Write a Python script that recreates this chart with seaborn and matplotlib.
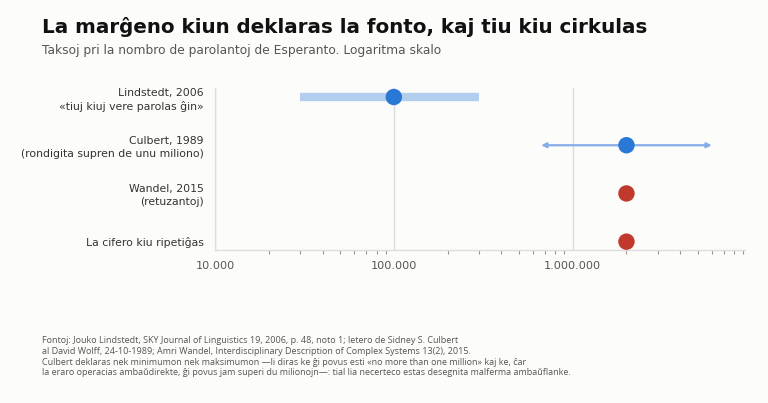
import pandas as pd
import matplotlib
matplotlib.use("Agg")
import matplotlib.pyplot as plt
from matplotlib.ticker import FuncFormatter, LogLocator
import seaborn as sns

# Data
fontoj = [
    "Lindstedt, 2006\n«tiuj kiuj vere parolas ĝin»",
    "Culbert, 1989\n(rondigita supren de unu miliono)",
    "Wandel, 2015\n(retuzantoj)",
    "La cifero kiu ripetiĝas",
]
valoroj = [100000, 2000000, 2000000, 2000000]
tipoj = ["fonto", "fonto", "ripeto", "ripeto"]
malsupre = [30000, 666667, None, None]
supre = [300000, 6000000, None, None]

BLUE = "#2a78d6"
RED = "#c0392b"
BG = "#fcfcfa"

df = pd.DataFrame({"fonto": fontoj, "valoro": valoroj, "tipo": tipoj})

sns.set_theme(style="white")
plt.rcParams["font.family"] = ["DejaVu Sans"]

fig = plt.figure(figsize=(7.68, 4.03), dpi=100, facecolor=BG)
ax = fig.add_axes([0.280, 0.380, 0.690, 0.402])
ax.set_facecolor(BG)

# Lindstedt range band
ax.hlines(0, malsupre[0], supre[0], color="#b3cdef", linewidth=6, zorder=1)
# Culbert open-ended range with arrows both ways
for ende in (malsupre[1], supre[1]):
    ax.annotate("", xy=(ende, 1), xytext=(valoroj[1], 1),
                arrowprops=dict(arrowstyle="-|>", color="#86ade8", lw=1.6,
                                mutation_scale=7, shrinkA=0, shrinkB=0), zorder=1)

sns.scatterplot(data=df, x="valoro", y="fonto", hue="tipo",
                palette={"fonto": BLUE, "ripeto": RED}, s=140,
                edgecolor="none", legend=False, zorder=3, ax=ax)

ax.set_xscale("log")
ax.set_xlim(1e4, 9.2e6)
ax.set_ylim(3.17, -0.19)
ax.set_xlabel("")
ax.set_ylabel("")

ax.xaxis.set_major_locator(LogLocator(base=10))
ax.xaxis.set_minor_locator(LogLocator(base=10, subs=range(2, 10)))
ax.xaxis.set_major_formatter(FuncFormatter(lambda v, p: f"{int(round(v)):,}".replace(",", ".")))
ax.tick_params(axis="x", which="both", bottom=True)
ax.tick_params(axis="x", which="major", length=0, pad=8, labelsize=8.1, labelcolor="#555555")
ax.tick_params(axis="x", which="minor", length=3, width=0.8, color="#999999")
ax.tick_params(axis="y", length=0, pad=8, labelsize=7.8, labelcolor="#333333")
for lbl in ax.get_yticklabels():
    lbl.set_multialignment("right")
    lbl.set_linespacing(1.35)

ax.grid(axis="x", which="major", color="#dddddd", linewidth=1)
ax.set_axisbelow(True)
for side in ["top", "right"]:
    ax.spines[side].set_visible(False)
for side in ["left", "bottom"]:
    ax.spines[side].set_color("#dddddd")
    ax.spines[side].set_linewidth(1)

fig.text(0.055, 0.933, "La marĝeno kiun deklaras la fonto, kaj tiu kiu cirkulas",
         fontsize=14.3, fontweight="bold", color="#111111", va="center")
fig.text(0.055, 0.875, "Taksoj pri la nombro de parolantoj de Esperanto. Logaritma skalo",
         fontsize=8.8, color="#555555", va="center")

noto = ("Fontoj: Jouko Lindstedt, SKY Journal of Linguistics 19, 2006, p. 48, noto 1; letero de Sidney S. Culbert\n"
        "al David Wolff, 24-10-1989; Amri Wandel, Interdisciplinary Description of Complex Systems 13(2), 2015.\n"
        "Culbert deklaras nek minimumon nek maksimumon —li diras ke ĝi povus esti «no more than one million» kaj ke, ĉar\n"
        "la eraro operacias ambaŭdirekte, ĝi povus jam superi du milionojn—: tial lia necerteco estas desegnita malferma ambaŭflanke.")
fig.text(0.055, 0.166, noto, fontsize=6.45, color="#555555", va="top",
         family=["Open Sans", "DejaVu Sans"], linespacing=1.25)

fig.savefig("out.png", dpi=100, facecolor=BG)
